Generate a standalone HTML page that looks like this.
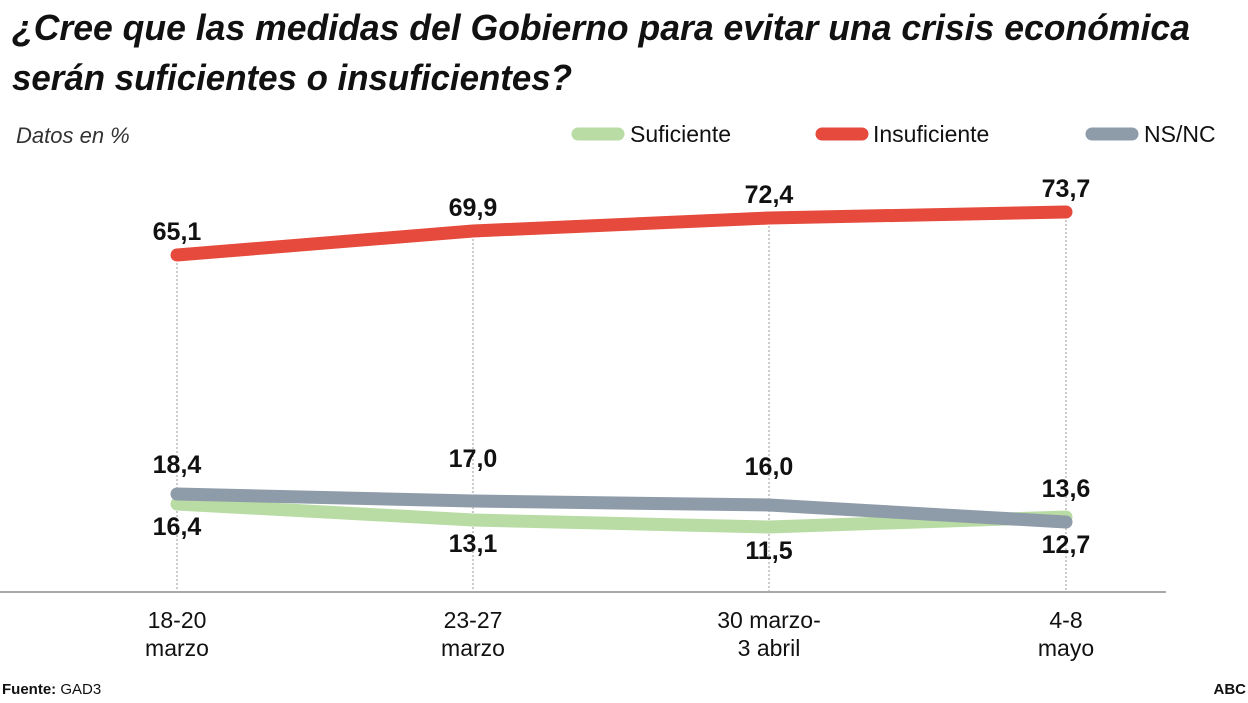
<!DOCTYPE html>
<html><head><meta charset="utf-8"><style>
body{margin:0;background:#fff;width:1248px;height:698px;overflow:hidden;font-family:"Liberation Sans",sans-serif}
</style></head><body>
<svg width="1248" height="698" viewBox="0 0 1248 698" xmlns="http://www.w3.org/2000/svg" font-family="Liberation Sans, sans-serif">
<text x="12" y="40" font-size="36" font-weight="bold" font-style="italic" fill="#111" textLength="1178" lengthAdjust="spacingAndGlyphs">¿Cree que las medidas del Gobierno para evitar una crisis económica</text>
<text x="12" y="90" font-size="36" font-weight="bold" font-style="italic" fill="#111" textLength="560" lengthAdjust="spacingAndGlyphs">serán suficientes o insuficientes?</text>
<text x="16" y="143" font-size="22" font-style="italic" fill="#333">Datos en %</text>
<line x1="578" y1="134" x2="618" y2="134" stroke="#b9dca5" stroke-width="13" stroke-linecap="round"/>
<text x="630" y="142" font-size="23" fill="#111">Suficiente</text>
<line x1="822" y1="134" x2="862" y2="134" stroke="#e54a3c" stroke-width="13" stroke-linecap="round"/>
<text x="873" y="142" font-size="23" fill="#111">Insuficiente</text>
<line x1="1092" y1="134" x2="1132" y2="134" stroke="#8e9ba8" stroke-width="13" stroke-linecap="round"/>
<text x="1144" y="142" font-size="23" fill="#111">NS/NC</text>
<g stroke="#999" stroke-width="1" stroke-dasharray="2,2">
<line x1="177" y1="255" x2="177" y2="592"/><line x1="473" y1="231" x2="473" y2="592"/>
<line x1="769" y1="218" x2="769" y2="592"/><line x1="1066" y1="212" x2="1066" y2="592"/>
</g>
<line x1="0" y1="592" x2="1166" y2="592" stroke="#aaa" stroke-width="2"/>
<polyline points="177,255 473,231 769,218 1066,212" fill="none" stroke="#e54a3c" stroke-width="13" stroke-linecap="round" stroke-linejoin="round"/>
<polyline points="177,504 473,520 769,527 1066,517" fill="none" stroke="#b9dca5" stroke-width="13" stroke-linecap="round" stroke-linejoin="round"/>
<polyline points="177,494 473,501 769,505 1066,522" fill="none" stroke="#8e9ba8" stroke-width="13" stroke-linecap="round" stroke-linejoin="round"/>
<g font-size="25" font-weight="bold" fill="#111" text-anchor="middle">
<text x="177" y="240">65,1</text><text x="473" y="216">69,9</text><text x="769" y="203">72,4</text><text x="1066" y="197">73,7</text>
<text x="177" y="473">18,4</text><text x="473" y="467">17,0</text><text x="769" y="475">16,0</text><text x="1066" y="497">13,6</text>
<text x="177" y="535">16,4</text><text x="473" y="552">13,1</text><text x="769" y="559">11,5</text><text x="1066" y="553">12,7</text>
</g>
<g font-size="23" fill="#111" text-anchor="middle">
<text x="177" y="628">18-20</text><text x="177" y="656">marzo</text>
<text x="473" y="628">23-27</text><text x="473" y="656">marzo</text>
<text x="769" y="628">30 marzo-</text><text x="769" y="656">3 abril</text>
<text x="1066" y="628">4-8</text><text x="1066" y="656">mayo</text>
</g>
<text x="2" y="694" font-size="15" fill="#111"><tspan font-weight="bold">Fuente:</tspan> GAD3</text>
<text x="1246" y="694" font-size="15" font-weight="bold" fill="#111" text-anchor="end">ABC</text>
</svg>
</body></html>
